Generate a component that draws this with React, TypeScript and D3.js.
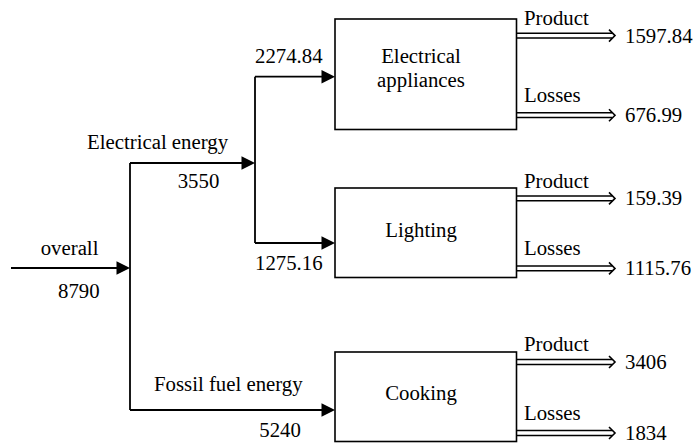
import React from "react";
import * as d3 from "d3";

// ---- data ----
const sourceLabel = "overall";
const sourceValue = 8790;
const branchLabels = ["Electrical energy", "Fossil fuel energy"];
const branchValues = [3550, 5240];
const endUseLabels = [["Electrical", "appliances"], ["Lighting"], ["Cooking"]];
const endUseInputs = [2274.84, 1275.16, 5240];
const outputLabels = ["Product", "Losses"];
const productValues = [1597.84, 159.39, 3406];
const lossValues = [676.99, 1115.76, 1834];

// ---- layout ----
const W = 697, H = 443;
const FONT = "Liberation Serif";
const FS = 20.8;
const boxX0 = 335, boxX1 = 516.5;
const boxTops = [19, 188, 352];
const boxBottoms = [129.5, 277.5, 441.5];
const inY = [76.7, 243, 410];
const boxLabelY = [63.3, 237, 400];
const prodY = [35.6, 198.4, 362];
const lossY = [115.2, 268.4, 433];
const xStart = 11, xSplit1 = 130, xSplit2 = 255, outEnd = 615;
const overallY = 268, elecY = 163;

const fmt = (v: number) => String(v);

function Arrow({ x1, y, x2 }: { x1: number; y: number; x2: number }) {
  const hl = 13.5, hw = 6.8;
  const path = d3.path();
  path.moveTo(x2, y);
  path.lineTo(x2 - hl, y - hw);
  path.lineTo(x2 - hl, y + hw);
  path.closePath();
  return (
    <g>
      <line x1={x1} y1={y} x2={x2 - hl + 1} y2={y} stroke="#000" strokeWidth={1.8} />
      <path d={path.toString()} fill="#000" />
    </g>
  );
}

function DoubleArrow({ x1, y, x2 }: { x1: number; y: number; x2: number }) {
  const g = 2.4;
  const line = d3.line();
  return (
    <g fill="none" stroke="#000" strokeWidth={1.5}>
      <line x1={x1} y1={y - g} x2={x2 - 3} y2={y - g} />
      <line x1={x1} y1={y + g} x2={x2 - 3} y2={y + g} />
      <path d={line([[x2 - 6, y - 6], [x2, y], [x2 - 6, y + 6]]) || ""} strokeWidth={1.6} />
    </g>
  );
}

export default function App() {
  const txt = (s: string, x: number, y: number, anchor: string = "start", key?: any) => (
    <text key={key} x={x} y={y} textAnchor={anchor as any} style={{ fontFamily: FONT, fontSize: FS }} fill="#000">
      {s}
    </text>
  );
  const boxCx = 421;
  return (
    <svg width={W} height={H} style={{ position: "absolute", left: 0, top: 0, background: "#fff" }}>
      <rect x={0} y={0} width={W} height={H} fill="#fff" />
      {/* trunk */}
      <Arrow x1={xStart} y={overallY} x2={xSplit1} />
      <line x1={xSplit1} y1={elecY} x2={xSplit1} y2={inY[2]} stroke="#000" strokeWidth={1.8} />
      <Arrow x1={xSplit1} y={elecY} x2={xSplit2} />
      <line x1={xSplit2} y1={inY[0]} x2={xSplit2} y2={inY[1]} stroke="#000" strokeWidth={1.8} />
      <Arrow x1={xSplit2} y={inY[0]} x2={boxX0} />
      <Arrow x1={xSplit2} y={inY[1]} x2={boxX0} />
      <Arrow x1={xSplit1} y={inY[2]} x2={boxX0} />

      {txt(sourceLabel, 40.7, 255)}
      {txt(fmt(sourceValue), 58, 298)}
      {txt(branchLabels[0], 87, 149)}
      {txt(fmt(branchValues[0]), 177.7, 188)}
      {txt(fmt(endUseInputs[0]), 255, 63.3)}
      {txt(fmt(endUseInputs[1]), 255, 270)}
      {txt(branchLabels[1], 154, 391)}
      {txt(fmt(branchValues[1]), 259.3, 436.7)}

      {endUseLabels.map((lab, i) => (
        <g key={i}>
          <rect x={boxX0} y={boxTops[i]} width={boxX1 - boxX0} height={boxBottoms[i] - boxTops[i]} fill="#fff" stroke="#000" strokeWidth={1.6} />
          {lab.map((s, j) => txt(s, boxCx, boxLabelY[i] + j * 24, "middle", j))}
          <DoubleArrow x1={boxX1} y={prodY[i]} x2={outEnd} />
          <DoubleArrow x1={boxX1} y={lossY[i]} x2={outEnd} />
          {txt(outputLabels[0], 524, prodY[i] - 10.6)}
          {txt(outputLabels[1], 524, lossY[i] - 13.4)}
          {txt(fmt(productValues[i]), 625, prodY[i] + 7)}
          {txt(fmt(lossValues[i]), 625, lossY[i] + 7)}
        </g>
      ))}
    </svg>
  );
}
